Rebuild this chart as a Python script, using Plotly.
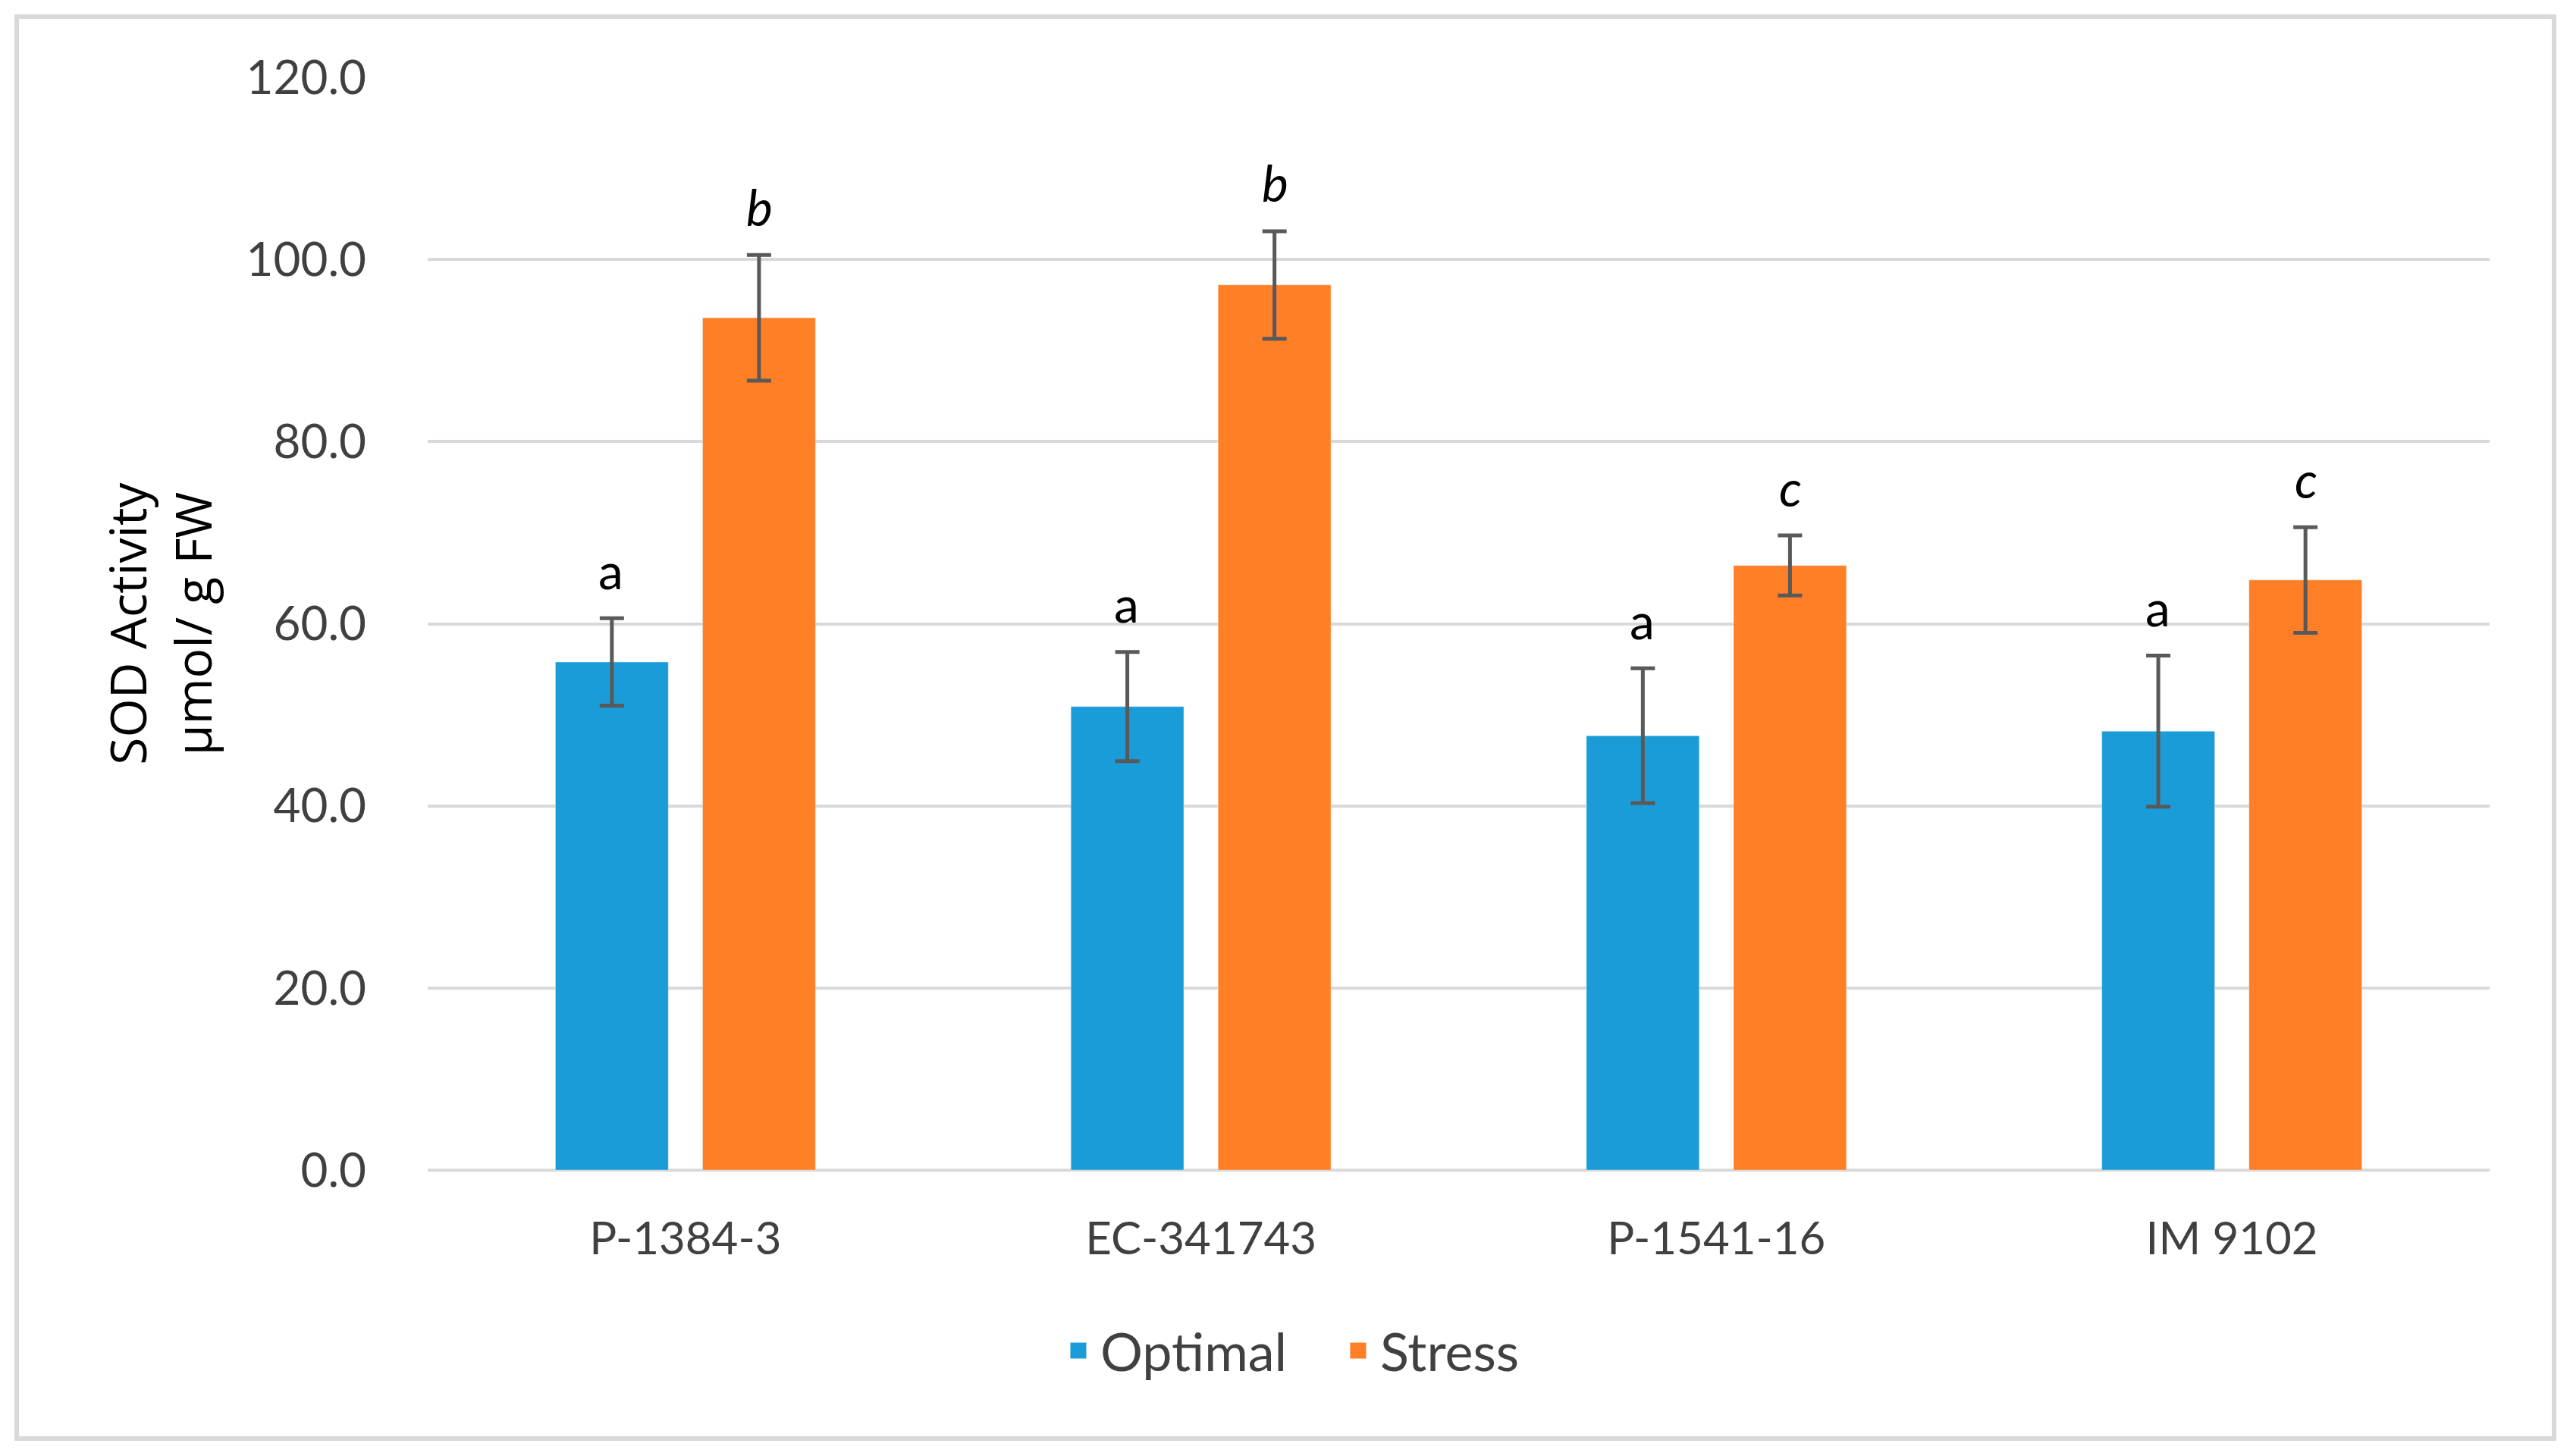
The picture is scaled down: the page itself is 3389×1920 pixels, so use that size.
import plotly.graph_objects as go

categories = ["P-1384-3", "EC-341743", "P-1541-16", "IM 9102"]
optimal = [55.8, 50.9, 47.7, 48.2]
optimal_err = [4.8, 6.0, 7.4, 8.3]
stress = [93.6, 97.2, 66.4, 64.8]
stress_err = [6.9, 5.9, 3.3, 5.8]
optimal_letters = ["a", "a", "a", "a"]
stress_letters = ["b", "b", "c", "c"]
y_ticks = [0, 20, 40, 60, 80, 100, 120]

BLUE = "#1A9CD8"
ORANGE = "#FF7F27"
ERR = "#595959"
GRID = "#D9D9D9"
TXT = "#404040"

W, H = 3373, 1904
ML, MR, MT, MB = 556, 98, 94, 369
PW, PH = W - ML - MR, H - MT - MB

fig = go.Figure()
fig.add_trace(go.Bar(
    name="Optimal", x=categories, y=optimal, marker_color=BLUE, showlegend=False,
    error_y=dict(type="data", array=optimal_err, color=ERR, thickness=5, width=16),
))
fig.add_trace(go.Bar(
    name="Stress", x=categories, y=stress, marker_color=ORANGE, showlegend=False,
    error_y=dict(type="data", array=stress_err, color=ERR, thickness=5, width=16),
))
# legend entries (no data drawn)
for nm, col in (("Optimal", BLUE), ("Stress", ORANGE)):
    fig.add_trace(go.Scatter(
        name=nm, x=[None], y=[None], mode="markers",
        marker=dict(symbol="square", size=16, color=col, line=dict(color=col, width=5)),
        showlegend=True,
    ))

for i, c in enumerate(categories):
    fig.add_annotation(x=c, y=optimal[i] + optimal_err[i], xref="x", yref="y",
                       text=optimal_letters[i], showarrow=False, xshift=-98,
                       yanchor="middle", yshift=64,
                       font=dict(family="Lato", size=66, color="#000000"))
    fig.add_annotation(x=c, y=stress[i] + stress_err[i], xref="x", yref="y",
                       text="<i>" + stress_letters[i] + "</i>", showarrow=False, xshift=98,
                       yanchor="middle", yshift=64,
                       font=dict(family="Lato", size=66, color="#000000"))

fig.update_layout(
    width=W, height=H,
    paper_bgcolor="white", plot_bgcolor="white",
    margin=dict(l=ML, r=MR, t=MT, b=MB),
    barmode="group", bargap=0.429, bargroupgap=0.233,
    font=dict(family="Lato", color=TXT),
    legend=dict(orientation="h", xref="container", yref="container",
                x=0.520, y=0.0688, xanchor="center", yanchor="middle",
                font=dict(family="Lato", size=70, color=TXT),
                itemwidth=48, entrywidth=306, entrywidthmode="pixels",
                traceorder="normal"),
    shapes=[dict(type="rect", xref="paper", yref="paper",
                 x0=(14 - ML) / PW, x1=(3360 - ML) / PW,
                 y0=-(1889 - (H - MB)) / PH, y1=(H - MB - 14) / PH,
                 line=dict(color=GRID, width=6), layer="below")],
)
fig.update_yaxes(
    range=[0, 120], tickvals=y_ticks, tickformat=".1f",
    showgrid=True, gridcolor=GRID, gridwidth=4,
    zeroline=True, zerolinecolor=GRID, zerolinewidth=4,
    showline=False, ticks="", ticklabelstandoff=80,
    tickfont=dict(family="Lato", size=62, color=TXT),
    title=dict(text="SOD Activity<br>µmol/ g FW", standoff=23,
               font=dict(family="Open Sans", size=66, color="#000000")),
)
fig.update_xaxes(
    showgrid=False, showline=False, ticks="", ticklabelstandoff=50,
    tickfont=dict(family="Lato", size=60, color=TXT),
)

fig.write_html("out.html")
